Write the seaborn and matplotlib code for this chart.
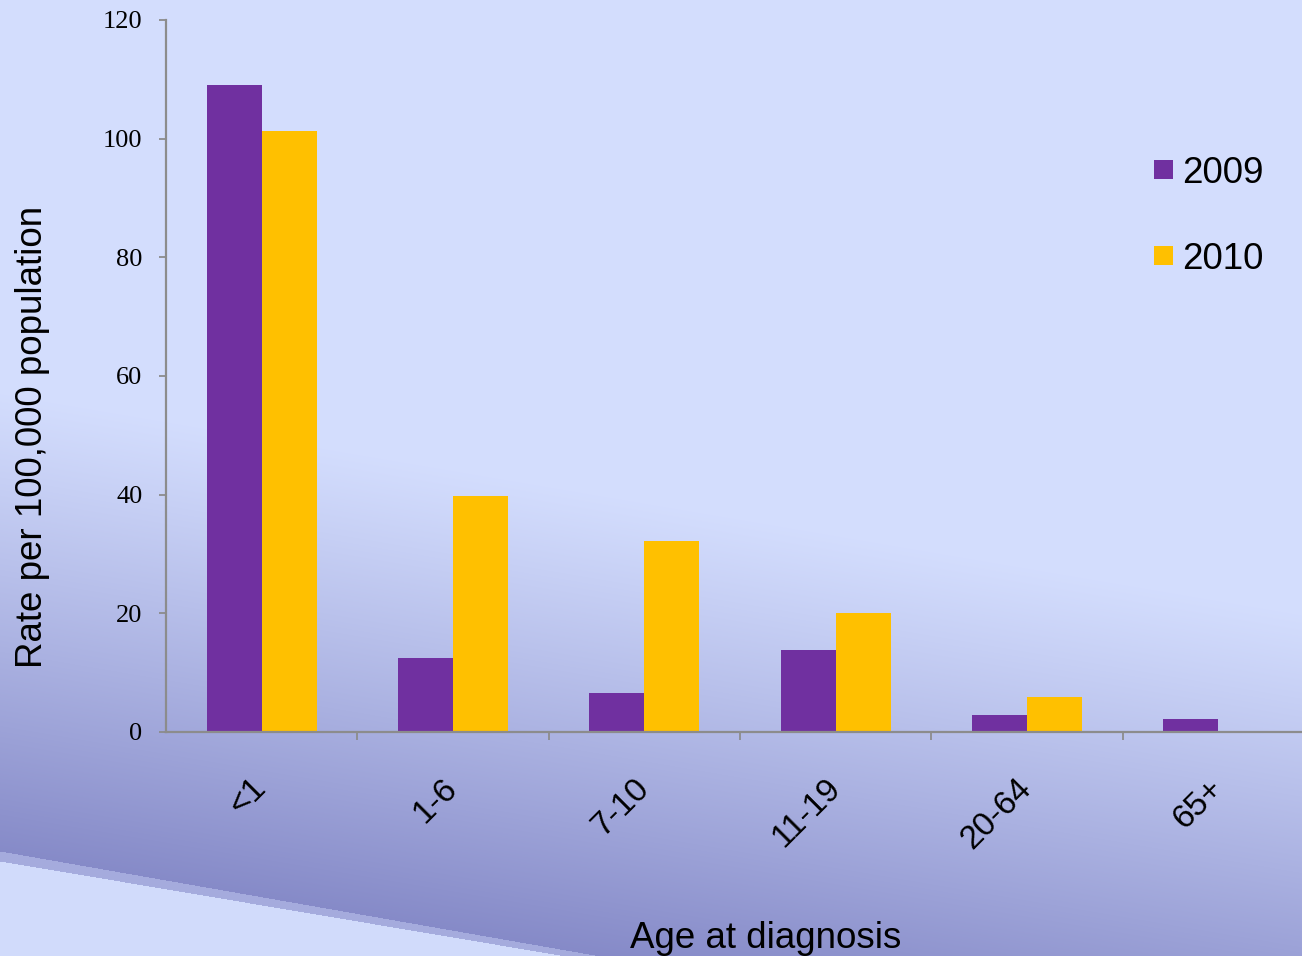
import numpy as np
import pandas as pd
import matplotlib
matplotlib.use("Agg")
import matplotlib.pyplot as plt
from matplotlib.patches import Patch
import seaborn as sns

# Data
age_groups = ["<1", "1-6", "7-10", "11-19", "20-64", "65+"]
rate_2009 = [109.0, 12.4, 6.5, 13.8, 2.8, 2.2]
rate_2010 = [101.3, 39.8, 32.2, 20.1, 5.9, 0.0]
years = ["2009", "2010"]
y_ticks = [0, 20, 40, 60, 80, 100, 120]

colors = {"2009": "#7030A0", "2010": "#FFC000"}

df = pd.DataFrame({
    "age": age_groups * 2,
    "year": [years[0]] * len(age_groups) + [years[1]] * len(age_groups),
    "rate": rate_2009 + rate_2010,
})

sns.set_style("ticks")
plt.rcParams["font.family"] = ["Liberation Sans", "DejaVu Sans"]
plt.rcParams.update({
    "text.color": "black",
    "axes.labelcolor": "black",
    "xtick.labelcolor": "black",
    "ytick.labelcolor": "black",
})

W, H = 1302, 956
fig = plt.figure(figsize=(W / 100, H / 100), dpi=100)

# Slide background: flat light top, diagonal darkening toward the bottom,
# light wedge in the lower-left corner.
bg_ax = fig.add_axes([0, 0, 1, 1], zorder=-10)
bg_ax.set_axis_off()
yy, xx = np.mgrid[0:H, 0:W].astype(float)
light = np.array([212, 222, 254]) / 255.0
dark = np.array([128, 132, 196]) / 255.0
y0 = 385 + 0.17 * xx
t = np.clip((yy - y0) / 500.0, 0, 1) ** 1.1
img = light[None, None, :] * (1 - t[..., None]) + dark[None, None, :] * t[..., None]
stripe = (yy > 851 + 0.175 * xx)
wedge = (yy > 861 + 0.168 * xx)
img[stripe] = np.array([165, 172, 222]) / 255.0
wedge_col = np.array([210, 220, 252]) / 255.0
img[wedge] = wedge_col
bg_ax.imshow(img, extent=(0, 1, 0, 1), aspect="auto", origin="upper")

# Main axes
left, right = 166 / W, 1314 / W
bottom, top = 1 - 732 / H, 1 - 20 / H
ax = fig.add_axes([left, bottom, right - left, top - bottom])
ax.set_facecolor("none")

sns.barplot(data=df, x="age", y="rate", hue="year", order=age_groups,
            hue_order=years, palette=colors, width=0.575, saturation=1,
            linewidth=0, legend=False, ax=ax)

ax.set_xlim(-0.5, 5.5)
ax.set_ylim(0, 120)
ax.set_yticks(y_ticks)
ax.set_yticklabels([str(v) for v in y_ticks], family="Liberation Serif", fontsize=19)

spine_col = "#8C8C8C"
for s in ["top", "right"]:
    ax.spines[s].set_visible(False)
for s in ["left", "bottom"]:
    ax.spines[s].set_color(spine_col)
    ax.spines[s].set_linewidth(1.6)

ax.tick_params(axis="y", direction="out", length=5, width=1.3, color=spine_col,
               pad=12, labelcolor="black")
ax.set_xticks(range(len(age_groups)))
ax.set_xticks(np.arange(0.5, len(age_groups) - 1, 1.0), minor=True)
ax.tick_params(axis="x", which="major", length=0, pad=37, labelcolor="black")
ax.tick_params(axis="x", which="minor", direction="out", length=6, width=1.3,
               color=spine_col)
ax.set_xticklabels(age_groups, rotation=45, ha="right", va="center",
                   rotation_mode="anchor", fontsize=24)

ax.set_ylabel("Rate per 100,000 population", fontsize=26.5, color="black")
ax.yaxis.set_label_coords(-0.101, 0.414)
ax.set_xlabel("Age at diagnosis", fontsize=26.5, color="black")
ax.xaxis.set_label_coords(0.522, -0.265)

handles = [Patch(facecolor=colors[y], edgecolor="none", label=y) for y in years]
leg = ax.legend(handles=handles, loc="upper left",
                bbox_to_anchor=(1154 / W, 1 - 156 / H),
                bbox_transform=fig.transFigure, frameon=False, fontsize=26.5,
                handlelength=0.51, handleheight=0.41, handletextpad=0.25,
                labelspacing=1.38, borderpad=0, borderaxespad=0)
for txt in leg.get_texts():
    txt.set_color("black")

fig.savefig("out.png", dpi=100)
